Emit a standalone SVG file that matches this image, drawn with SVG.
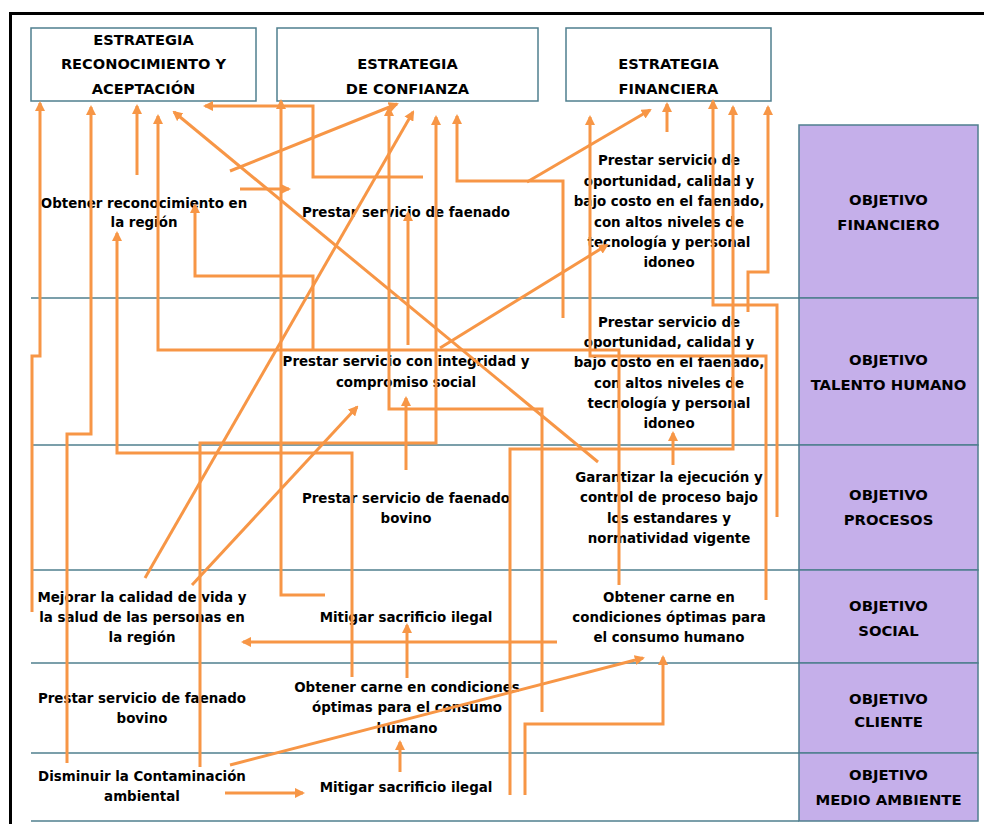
<svg xmlns="http://www.w3.org/2000/svg" width="984" height="824" viewBox="0 0 984 824">
<style>
.bg{fill:#ffffff}
.frame{stroke:#000;stroke-width:3;fill:none}
.box{fill:#fff;stroke:#4f7f8e;stroke-width:1.5}
.obj{fill:#c5afea;stroke:#4f7f8e;stroke-width:1.5}
.rule{stroke:#4f7f8e;stroke-width:1.5}
text{font-family:"DejaVu Sans","Verdana","Liberation Sans",sans-serif;font-weight:bold;fill:#000;text-anchor:middle}
.h{font-size:14.6px}
.t{font-size:13.4px}
.o{font-size:14.8px}
.c path{fill:none;stroke:#f79646;stroke-width:3;stroke-linejoin:miter;marker-end:url(#ah)}
</style>
<defs>
<marker id="ah" viewBox="0 0 10 10" refX="8" refY="5" markerWidth="3.4" markerHeight="3.4" orient="auto" markerUnits="strokeWidth">
<path d="M0,0 L10,5 L0,10 z" fill="#f79646"/>
</marker>
</defs>
<rect class="bg" x="0" y="0" width="984" height="824"/>
<path class="frame" d="M10.5 824 V13.5 H984"/>

<g id="rules">
<line class="rule" x1="31" y1="298" x2="799" y2="298"/>
<line class="rule" x1="31" y1="445" x2="799" y2="445"/>
<line class="rule" x1="31" y1="570" x2="799" y2="570"/>
<line class="rule" x1="31" y1="663" x2="799" y2="663"/>
<line class="rule" x1="31" y1="753" x2="799" y2="753"/>
<line class="rule" x1="31" y1="821" x2="799" y2="821"/>
</g>

<g id="obj-financiero"><rect class="obj" x="799" y="125" width="179" height="173"/><text class="o" x="888.5" y="205">OBJETIVO</text><text class="o" x="888.5" y="230">FINANCIERO</text></g>
<g id="obj-talento"><rect class="obj" x="799" y="298" width="179" height="147"/><text class="o" x="888.5" y="365">OBJETIVO</text><text class="o" x="888.5" y="390">TALENTO HUMANO</text></g>
<g id="obj-procesos"><rect class="obj" x="799" y="445" width="179" height="125"/><text class="o" x="888.5" y="500">OBJETIVO</text><text class="o" x="888.5" y="525">PROCESOS</text></g>
<g id="obj-social"><rect class="obj" x="799" y="570" width="179" height="93"/><text class="o" x="888.5" y="611">OBJETIVO</text><text class="o" x="888.5" y="636">SOCIAL</text></g>
<g id="obj-cliente"><rect class="obj" x="799" y="663" width="179" height="90"/><text class="o" x="888.5" y="704">OBJETIVO</text><text class="o" x="888.5" y="727">CLIENTE</text></g>
<g id="obj-medio"><rect class="obj" x="799" y="753" width="179" height="68"/><text class="o" x="888.5" y="780">OBJETIVO</text><text class="o" x="888.5" y="805">MEDIO AMBIENTE</text></g>

<g id="est-reconocimiento"><rect class="box" x="31" y="28" width="225" height="73"/><text class="h" x="143.5" y="45">ESTRATEGIA</text><text class="h" x="143.5" y="69">RECONOCIMIENTO Y</text><text class="h" x="143.5" y="94">ACEPTACIÓN</text></g>
<g id="est-confianza"><rect class="box" x="277" y="28" width="261" height="73"/><text class="h" x="407.5" y="69">ESTRATEGIA</text><text class="h" x="407.5" y="94">DE CONFIANZA</text></g>
<g id="est-financiera"><rect class="box" x="566" y="28" width="205" height="73"/><text class="h" x="668.5" y="69">ESTRATEGIA</text><text class="h" x="668.5" y="94">FINANCIERA</text></g>

<g id="n-obtener-reconocimiento"><text class="t" x="144" y="208">Obtener reconocimiento en</text><text class="t" x="144" y="227">la región</text></g>
<g id="n-faenado-1"><text class="t" x="406" y="217">Prestar servicio de faenado</text></g>
<g id="n-oportunidad-1"><text class="t" x="669" y="165">Prestar servicio de</text><text class="t" x="669" y="186">oportunidad, calidad y</text><text class="t" x="669" y="206">bajo costo en el faenado,</text><text class="t" x="669" y="227">con altos niveles de</text><text class="t" x="669" y="247">tecnología y personal</text><text class="t" x="669" y="267">idoneo</text></g>

<g id="n-integridad"><text class="t" x="406" y="366">Prestar servicio con integridad y</text><text class="t" x="406" y="387">compromiso social</text></g>
<g id="n-oportunidad-2"><text class="t" x="669" y="327">Prestar servicio de</text><text class="t" x="669" y="347">oportunidad, calidad y</text><text class="t" x="669" y="367">bajo costo en el faenado,</text><text class="t" x="669" y="388">con altos niveles de</text><text class="t" x="669" y="408">tecnología y personal</text><text class="t" x="669" y="428">idoneo</text></g>

<g id="n-faenado-bovino-1"><text class="t" x="406" y="503">Prestar servicio de faenado</text><text class="t" x="406" y="523">bovino</text></g>
<g id="n-garantizar"><text class="t" x="669" y="482">Garantizar la ejecución y</text><text class="t" x="669" y="502">control de proceso bajo</text><text class="t" x="669" y="523">los estandares y</text><text class="t" x="669" y="543">normatividad vigente</text></g>

<g id="n-mejorar"><text class="t" x="142" y="602">Mejorar la calidad de vida y</text><text class="t" x="142" y="622">la salud de las personas en</text><text class="t" x="142" y="642">la región</text></g>
<g id="n-mitigar-1"><text class="t" x="406" y="622">Mitigar sacrificio ilegal</text></g>
<g id="n-carne-1"><text class="t" x="669" y="602">Obtener carne en</text><text class="t" x="669" y="622">condiciones óptimas para</text><text class="t" x="669" y="642">el consumo humano</text></g>

<g id="n-faenado-bovino-2"><text class="t" x="142" y="703">Prestar servicio de faenado</text><text class="t" x="142" y="723">bovino</text></g>
<g id="n-carne-2"><text class="t" x="407" y="692">Obtener carne en condiciones</text><text class="t" x="407" y="712">óptimas para el consumo</text><text class="t" x="407" y="733">humano</text></g>

<g id="n-disminuir"><text class="t" x="142" y="781">Disminuir la Contaminación</text><text class="t" x="142" y="801">ambiental</text></g>
<g id="n-mitigar-2"><text class="t" x="406" y="792">Mitigar sacrificio ilegal</text></g>

<g id="connectors" class="c">
<path d="M32 612 V356 H40 V103"/>
<path d="M67 763 V434 H91 V107"/>
<path d="M137 175 V106"/>
<path d="M619 585 V350 H158 V116"/>
<path d="M598 462 L174 112"/>
<path d="M423 177 H313 V106 H205"/>
<path d="M325 595 H281 V101"/>
<path d="M230 171 L397 104"/>
<path d="M240 189 H289"/>
<path d="M352 677 V453 H117 V233"/>
<path d="M313 349 V276 H195 V205"/>
<path d="M542 712 V409 H389 V108"/>
<path d="M145 578 L413 112"/>
<path d="M200 767 V443 H436 V117"/>
<path d="M563 318 V181 H457 V116"/>
<path d="M527 182 L650 110"/>
<path d="M766 600 V356 H590 V117"/>
<path d="M667 132 V104"/>
<path d="M777 517 V305 H713 V101"/>
<path d="M510 795 V449 H733 V107"/>
<path d="M748 312 V272 H768 V107"/>
<path d="M673 465 V433"/>
<path d="M525 795 V724 H663 V657"/>
<path d="M230 765 L643 658"/>
<path d="M225 793 H303"/>
<path d="M400 772 V742"/>
<path d="M407 678 V625"/>
<path d="M557 642 H243"/>
<path d="M406 470 V398"/>
<path d="M408 345 V213"/>
<path d="M440 348 L607 245"/>
<path d="M192 585 L357 407"/>
</g>
</svg>
